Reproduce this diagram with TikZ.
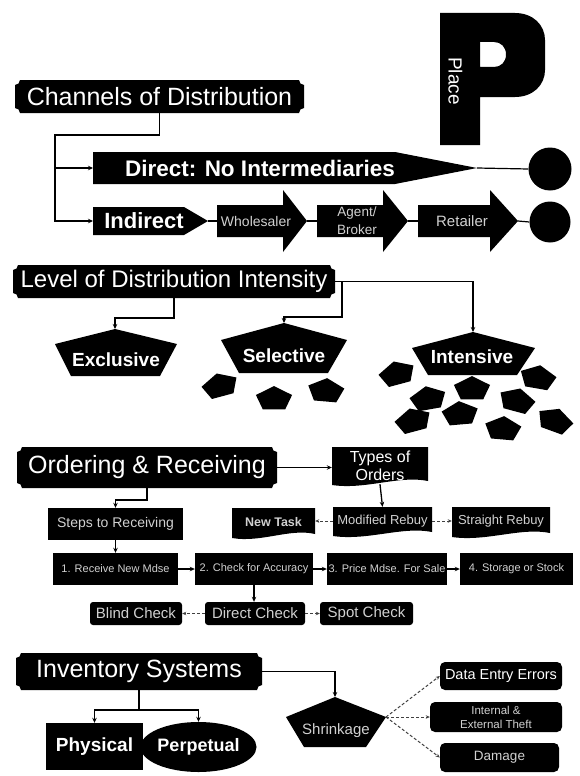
\documentclass[tikz,border=0pt]{standalone}
\usepackage{fontspec}
\setmainfont{Liberation Sans}
\usetikzlibrary{arrows.meta,shapes.geometric}
\tikzset{
  conn/.style={line width=1.3pt, draw=black},
  arr/.style={conn, -{Stealth[length=5pt,width=4.5pt]}},
  dotarr/.style={line width=1pt, draw=black!75, densely dashed, -{Stealth[length=4pt,width=3.5pt]}},
  hdrtext/.style={text=white, font=\fontsize{25}{28}\selectfont, inner sep=0pt},
  lbl/.style={text=white, inner sep=0pt, align=center},
  smalltxt/.style={text=white!82!black},
  blackbox/.style={fill=black, draw=none, inner sep=0pt, align=center},
  roundbox/.style={blackbox, rounded corners=3pt},
}
\newcommand\plaque[6]{%
  \fill[black] (#2,#3+5) .. controls (#2+2.8,#3+5) and (#2+5,#3+2.8) .. (#2+5,#3)
    -- (#4-5,#3) .. controls (#4-5,#3+2.8) and (#4-2.8,#3+5) .. (#4,#3+5)
    -- (#4,#5-5) .. controls (#4-2.8,#5-5) and (#4-5,#5-2.8) .. (#4-5,#5)
    -- (#2+5,#5) .. controls (#2+5,#5-2.8) and (#2+2.8,#5-5) .. (#2,#5-5) -- cycle;
  \node[hdrtext, minimum width={#4-#2}, minimum height={#5-#3}] (#1) at ({(#2+#4)/2},{(#3+#5)/2}) {#6};
}
\newcommand\docshape[4]{%
  \fill[black] (#1,#2) -- (#3,#2) -- (#3,#4-3)
    .. controls ({#3-0.3*(#3-#1)},#4-9) and ({#1+0.35*(#3-#1)},#4+6) .. (#1,#4+1) -- cycle;
}
\newcommand\pent[3]{%
  \fill[black,shift={(#1,#2)},rotate=#3,yscale=0.68] (90:19) -- (162:19) -- (234:19) -- (306:19) -- (18:19) -- cycle;
}
\begin{document}
\begin{tikzpicture}[x=1pt,y=-1pt]
\useasboundingbox (0,0) rectangle (579,776);

% ---------- P ----------
\fill[black,even odd rule] (440,13) -- (515,13) .. controls (533,13) and (545,25) .. (545,40)
  -- (545,70) .. controls (545,85) and (533,97) .. (515,97) -- (480,97) -- (480,145) -- (440,145) -- cycle
  (480,42) -- (494,42) .. controls (501,42) and (506,47) .. (506,54.5)
  .. controls (506,62) and (501,67) .. (494,67) -- (480,67) -- cycle;
\node[lbl, rotate=-90, font=\fontsize{19}{20}\selectfont] (place) at (455.5,81) {Place};

% ---------- Channels ----------
\plaque{chan}{15}{80}{304}{113}{Channels of Distribution}

\fill[black] (93,152) -- (395,152) -- (477,168) -- (395,184) -- (93,184) -- cycle;
\coordinate (dirL) at (93,168);
\coordinate (dirT) at (477,168);
\node[lbl, font=\bfseries\fontsize{22.5}{24}\selectfont] (direct) at (260,168) {Direct: No Intermediaries};

\node[circle, fill=black, minimum size=43pt, inner sep=0pt] (end1) at (550,169) {};
\node[circle, fill=black, minimum size=41pt, inner sep=0pt] (end2) at (550,222) {};

\fill[black] (93,207) -- (184,207) -- (208,221) -- (184,235) -- (93,235) -- cycle;
\coordinate (indL) at (93,221);
\coordinate (indT) at (208,221);
\node[lbl, font=\bfseries\fontsize{22}{24}\selectfont] (indirect) at (144,221) {Indirect};

\fill[black] (217,205) -- (283,205) -- (283,190) -- (307,221) -- (283,252) -- (283,237) -- (217,237) -- cycle;
\coordinate (whL) at (217,221);
\coordinate (whT) at (307,221);
\node[lbl, smalltxt, font=\fontsize{14}{16}\selectfont] (wholesaler) at (256,221) {Wholesaler};

\fill[black] (317,205) -- (383,205) -- (383,190) -- (408,221) -- (383,252) -- (383,237) -- (317,237) -- cycle;
\coordinate (agL) at (317,221);
\coordinate (agT) at (408,221);
\node[lbl, smalltxt, font=\fontsize{13.5}{18}\selectfont] (agent) at (357,221) {Agent/\\Broker};

\fill[black] (418,205) -- (490,205) -- (490,190) -- (518,221) -- (490,252) -- (490,237) -- (418,237) -- cycle;
\coordinate (reL) at (418,221);
\coordinate (reT) at (518,221);
\node[lbl, smalltxt, font=\fontsize{15}{16}\selectfont] (retailer) at (462,221) {Retailer};

\coordinate (jc) at (55,135);
\draw[arr] (chan.south) |- (jc) |- (dirL);
\draw[arr] (jc) |- (indL);
\draw[conn, line width=1.2pt] (dirT) -- (end1.west);
\draw[conn, line width=1.2pt] (indT) -- (whL);
\draw[conn, line width=1.2pt] (whT) -- (agL);
\draw[conn, line width=1.2pt] (agT) -- (reL);
\draw[conn, line width=1.2pt] (reT) -- (end2.west);

% ---------- Distribution intensity ----------
\plaque{lev}{13}{265}{335}{298}{\fontsize{24}{26}\selectfont Level of Distribution Intensity}

\fill[black] (115,329) -- (177,344) -- (160,376) -- (71,376) -- (55,344) -- cycle;
\coordinate (exT) at (115,329);
\node[lbl, font=\bfseries\fontsize{19}{20}\selectfont] (exclusive) at (116,360) {Exclusive};

\fill[black] (284,323) -- (347,340) -- (328,373) -- (239,373) -- (221,340) -- cycle;
\coordinate (selT) at (284,323);
\node[lbl, font=\bfseries\fontsize{19}{20}\selectfont] (selective) at (284,356) {Selective};

\fill[black] (473,332) -- (535,348) -- (517,375) -- (428,375) -- (412,348) -- cycle;
\coordinate (intT) at (473,332);
\node[lbl, font=\bfseries\fontsize{19}{20}\selectfont] (intensive) at (472,357) {Intensive};

\coordinate (jex) at (174,318);
\coordinate (jsel) at (342,317);
\draw[arr] (lev.south) -- (jex) -| (exT);
\draw[arr] (lev.east) -| (jsel) -| (selT);
\draw[arr] (lev.east) -| (intT);

\pent{220}{386}{195}
\pent{274}{399}{180}
\pent{326}{391}{175}

\pent{397}{374}{195}
\pent{538}{378}{170}
\pent{428}{399}{190}
\pent{472}{389}{180}
\pent{517}{401}{165}
\pent{413}{421}{195}
\pent{460}{414}{185}
\pent{503}{429}{175}
\pent{555}{421}{160}

% ---------- Ordering & Receiving ----------
\plaque{ord}{17}{447}{277}{488}{Ordering \& Receiving}

\docshape{332}{447}{428}{484}
\node[lbl, font=\fontsize{16}{18}\selectfont, minimum width=96pt, minimum height=37pt] (types) at (380,465.5) {Types of\\Orders};

\docshape{333}{507}{432}{535}
\node[lbl, smalltxt, font=\fontsize{13}{14}\selectfont, minimum width=99pt, minimum height=28pt] (modified) at (382.5,521) {Modified Rebuy};
\docshape{232}{508}{315}{537}
\node[lbl, smalltxt, font=\bfseries\fontsize{12.5}{14}\selectfont, minimum width=83pt, minimum height=29pt] (newtask) at (273.5,522.5) {New Task};
\docshape{452}{507}{550}{536}
\node[lbl, smalltxt, font=\fontsize{13}{14}\selectfont, minimum width=98pt, minimum height=29pt] (straight) at (501,521.5) {Straight Rebuy};

\draw[arr] (ord.east) -- (ord.east -| types.west);
\draw[arr] (types.south) -- (modified.north);
\draw[dotarr] (modified.west) -- (modified.west -| newtask.east);
\draw[dotarr] (modified.east) -- (modified.east -| straight.west);

\node[blackbox, smalltxt, font=\fontsize{14}{16}\selectfont, minimum width=135pt, minimum height=32pt] (steps) at (115.5,524) {Steps to Receiving};
\node[blackbox, smalltxt, font=\fontsize{11}{12}\selectfont, minimum width=125pt, minimum height=32pt] (receive) at (115.5,569) {1. Receive New Mdse};
\node[blackbox, smalltxt, font=\fontsize{11}{12}\selectfont, minimum width=118pt, minimum height=32pt] (check) at (254,569) {2. Check for Accuracy};
\node[blackbox, smalltxt, font=\fontsize{11}{12}\selectfont, minimum width=120pt, minimum height=32pt] (price) at (387,569) {3. Price Mdse. For Sale};
\node[blackbox, smalltxt, font=\fontsize{11}{12}\selectfont, minimum width=113pt, minimum height=32pt] (storage) at (516.5,569) {4. Storage or Stock};

\coordinate (jord) at (147,500);
\draw[arr] (ord.south) -- (jord) -| (steps.north);
\draw[arr] (steps.south) -- (receive.north);
\draw[arr] (receive) -- (check);
\draw[arr] (check) -- (price);
\draw[arr] (price) -- (storage);

\node[roundbox, smalltxt, font=\fontsize{15}{16}\selectfont, minimum width=92pt, minimum height=23pt] (blind) at (136,613.5) {Blind Check};
\node[roundbox, smalltxt, font=\fontsize{15}{16}\selectfont, minimum width=100pt, minimum height=23pt] (dcheck) at (255,613.5) {Direct Check};
\node[roundbox, smalltxt, font=\fontsize{15}{16}\selectfont, minimum width=93pt, minimum height=23pt] (spot) at (366.5,613.5) {Spot Check};

\draw[arr] (check.south) -- (check.south |- dcheck.north);
\draw[dotarr] (dcheck.west) -- (blind.east);
\draw[dotarr] (dcheck.east) -- (spot.west);

% ---------- Inventory ----------
\plaque{inv}{16}{653}{262}{690}{Inventory Systems}

\node[blackbox, text=white, font=\bfseries\fontsize{19}{20}\selectfont, minimum width=97pt, minimum height=47pt] (phys) at (94.5,746.5) {Physical};
\node[ellipse, fill=black, inner sep=0pt, text=white, font=\bfseries\fontsize{18}{20}\selectfont, minimum width=93pt, minimum height=50pt] (perp) at (198.5,747) {Perpetual};

\coordinate (jinv) at (139,710);
\draw[arr] (inv.south) -- (jinv) -| (phys.north);
\draw[arr] (jinv) -| (perp.north);

\fill[black] (335,697) -- (386,717) -- (366,747) -- (304,747) -- (286,717) -- cycle;
\coordinate (shT) at (335,697);
\coordinate (shR) at (386,717);
\node[lbl, smalltxt, font=\fontsize{15}{16}\selectfont] (shrink) at (336,731) {Shrinkage};
\draw[arr] (inv.east) -| (shT);

\node[blackbox, rounded corners=5pt, text=white, font=\fontsize{14.5}{16}\selectfont, minimum width=122pt, minimum height=28pt] (data) at (501,676) {Data Entry Errors};
\node[blackbox, rounded corners=5pt, smalltxt, font=\fontsize{11.5}{14}\selectfont, minimum width=132pt, minimum height=30pt] (theft) at (496,717) {Internal \&\\External Theft};
\node[blackbox, rounded corners=5pt, smalltxt, font=\fontsize{13.5}{15}\selectfont, minimum width=119pt, minimum height=29pt] (damage) at (499.5,757.5) {Damage};

\draw[dotarr] (shR) -- (data.west);
\draw[dotarr] (shR) -- (theft.west);
\draw[dotarr] (shR) -- (damage.west);
\end{tikzpicture}
\end{document}
